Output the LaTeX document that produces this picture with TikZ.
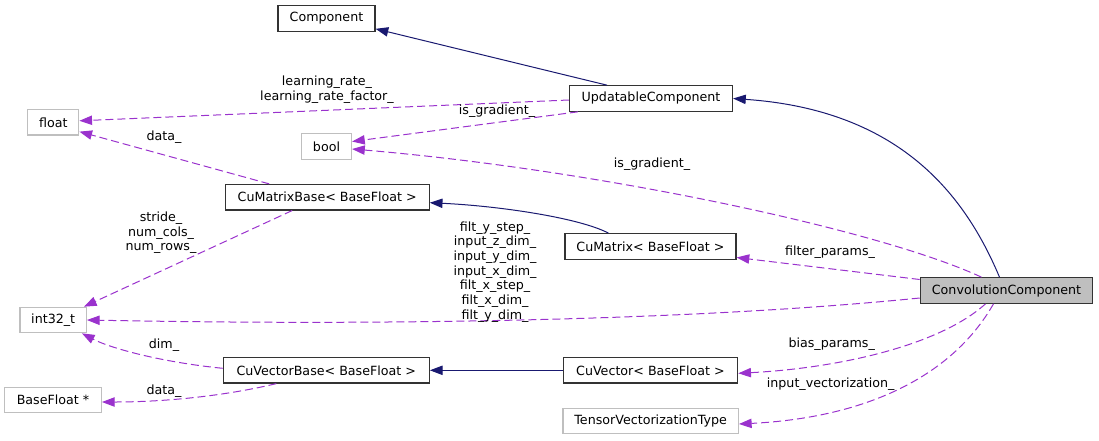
\documentclass[tikz,border=0pt]{standalone}
\usepackage{fontspec}
\setmainfont{DejaVu Sans}
\usetikzlibrary{arrows.meta,calc}
\definecolor{edgeblue}{HTML}{191970}
\definecolor{edgepurple}{HTML}{9A32CD}
\definecolor{boxgray}{HTML}{BFBFBF}
\begin{document}
\begin{tikzpicture}[x=0.75pt, y=-0.75pt,
    font=\fontsize{9.5}{11}\selectfont,
    cls/.style={rectangle, draw=black!80, line width=0.9pt, inner sep=0pt, minimum height=19.1pt},
    ext/.style={rectangle, draw=boxgray, line width=0.9pt, inner sep=0pt, minimum height=19.1pt},
    lbl/.style={align=center, inner sep=0pt},
    inherit/.style={draw=edgeblue, line width=0.75pt, -{Triangle[length=9.5pt, width=7pt]}},
    member/.style={draw=edgepurple, line width=0.75pt, dash pattern=on 6pt off 3pt, -{Triangle[length=9.5pt, width=7pt]}}]

    \useasboundingbox (0,0) rectangle (1099,440);

    % classes
    \node [cls, minimum width=72.75pt] (component) at (326.5,18.5) {Component};
    \node [cls, minimum width=122.25pt] (updatable) at (651,98.5) {UpdatableComponent};
    \node [cls, minimum width=153pt] (cumatrixbase) at (327.2,197.2) {CuMatrixBase< BaseFloat >};
    \node [cls, minimum width=128.25pt] (cumatrix) at (650.5,246.5) {CuMatrix< BaseFloat >};
    \node [cls, fill=boxgray, minimum width=129.3pt] (conv) at (1006.5,290.5) {ConvolutionComponent};
    \node [cls, minimum width=154.5pt] (cuvectorbase) at (326.3,370.3) {CuVectorBase< BaseFloat >};
    \node [cls, minimum width=130.8pt] (cuvector) at (650.5,370.3) {CuVector< BaseFloat >};

    % plain types
    \node [ext, minimum width=38.25pt] (float) at (53.3,122.3) {float};
    \node [ext, minimum width=37.5pt] (bool) at (326.5,146.5) {bool};
    \node [ext, minimum width=49.7pt] (int32) at (53.2,320) {int32\_t};
    \node [ext, minimum width=72.5pt] (basefloat) at (53,400) {BaseFloat *};
    \node [ext, minimum width=131.5pt] (tensorvt) at (650.7,421) {TensorVectorizationType};

    % inheritance
    \draw [inherit] ($(updatable.north)+(-44,0)$) -- ($(component.south east)+(0,-3)$);
    \draw [inherit] ($(conv.north)+(-7,0)$) .. controls (965,195) and (900,110) .. (updatable.east);
    \draw [inherit] ($(cumatrix.north)+(-42,0)$) .. controls (580,218) and (500,206) .. ($(cumatrixbase.east)+(0,5.5)$);
    \draw [inherit] (cuvector.west) -- (cuvectorbase.east);

    % members
    \draw [member] ($(updatable.west)+(0,1.5)$) -- ($(float.east)+(0,-1.5)$);
    \draw [member] ($(updatable.south west)+(9,0)$) -- ($(bool.east)+(0,-5)$);
    \draw [member] ($(conv.north)+(-25,0)$) .. controls (880,230) and (600,170) .. ($(bool.east)+(0,2.5)$);
    \draw [member] ($(cumatrixbase.north)+(-58,0)$) -- ($(float.south east)+(0,-4)$);
    \draw [member] ($(cumatrixbase.south)+(-35,0)$) -- ($(int32.north east)+(-3,0)$);
    \draw [member] ($(conv.west)+(0,7.5)$) .. controls (700,320) and (400,326) .. (int32.east);
    \draw [member] ($(conv.west)+(0,-11)$) -- ($(cumatrix.east)+(0,11)$);
    \draw [member] ($(conv.south)+(-21,0)$) .. controls (940,345) and (840,368) .. ($(cuvector.east)+(0,3)$);
    \draw [member] ($(conv.south)+(-13,0)$) .. controls (950,380) and (860,418) .. ($(tensorvt.east)+(0,3)$);
    \draw [member] ($(cuvectorbase.west)+(0,-2)$) .. controls (160,362) and (110,348) .. ($(int32.south east)+(-5,0)$);
    \draw [member] ($(cuvectorbase.south)+(-50,0)$) .. controls (220,397) and (160,402) .. ($(basefloat.east)+(0,2)$);

    % member names
    \node [lbl] (lrlbl) at (327,89.5) {learning\_rate\_\\learning\_rate\_factor\_};
    \node [lbl] (isglbl) at (497,110.7) {is\_gradient\_};
    \node [lbl] (isgconvlbl) at (652,164) {is\_gradient\_};
    \node [lbl] (mdatalbl) at (164,137) {data\_};
    \node [lbl] (stridelbl) at (161,233) {stride\_\\num\_cols\_\\num\_rows\_};
    \node [lbl] (filtlbl) at (495,271.7) {filt\_y\_step\_\\input\_z\_dim\_\\input\_y\_dim\_\\input\_x\_dim\_\\filt\_x\_step\_\\filt\_x\_dim\_\\filt\_y\_dim\_};
    \node [lbl] (filterlbl) at (830,252.3) {filter\_params\_};
    \node [lbl] (biaslbl) at (831.7,344.3) {bias\_params\_};
    \node [lbl] (inputvlbl) at (830.7,384.3) {input\_vectorization\_};
    \node [lbl] (dimlbl) at (164,345) {dim\_};
    \node [lbl] (vdatalbl) at (164,390.7) {data\_};
\end{tikzpicture}
\end{document}
